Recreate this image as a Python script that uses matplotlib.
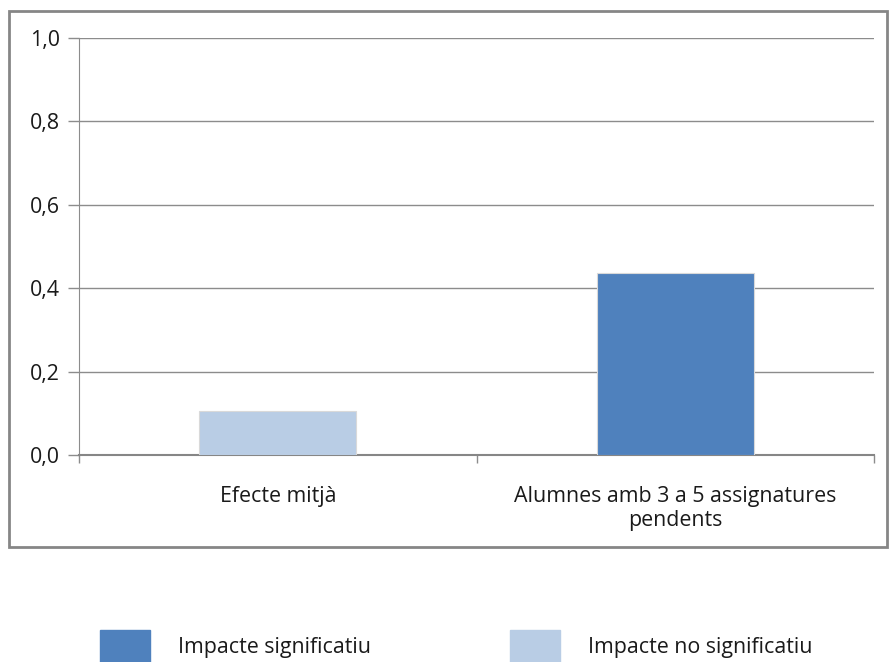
import matplotlib
matplotlib.use("Agg")
import matplotlib.pyplot as plt
from matplotlib.patches import Rectangle

categories = ["Efecte mitjà", "Alumnes amb 3 a 5 assignatures\npendents"]
values = [0.105, 0.436]
significant = [False, True]
legend_labels = ["Impacte significatiu", "Impacte no significatiu"]
yticks = [0.0, 0.2, 0.4, 0.6, 0.8, 1.0]
ytick_labels = ["0,0", "0,2", "0,4", "0,6", "0,8", "1,0"]

DARK = "#4F81BD"
LIGHT = "#B9CDE5"
GRID = "#8C8C8C"
FS = 15.4

plt.rcParams['font.family'] = ['Open Sans', 'DejaVu Sans']

fig = plt.figure(figsize=(8.89, 6.62), dpi=100)
W, H = 889, 662
ax = fig.add_axes([79 / W, 1 - 455 / H, (874 - 79) / W, (455 - 38) / H])

# outer frame
fig.patches.append(Rectangle((9 / W, 1 - 547 / H), (887 - 9) / W, (547 - 11) / H,
                             transform=fig.transFigure, fill=False,
                             edgecolor="#868686", lw=2.0))

x = range(len(categories))
colors = [DARK if s else LIGHT for s in significant]
ax.bar(x, values, width=0.395, color=colors, edgecolor="#D9D9D9", linewidth=0.8, zorder=3)

ax.set_xlim(-0.5, 1.5)
ax.set_ylim(0, 1.0)
ax.set_yticks(yticks)
ax.set_yticklabels(ytick_labels, fontsize=FS, color="#1a1a1a")
ax.yaxis.grid(True, color=GRID, lw=1.0, zorder=0)
ax.set_axisbelow(True)

ax.set_xticks([0, 1])
ax.set_xticklabels(categories, fontsize=FS, linespacing=1.2, color="#1a1a1a")
ax.tick_params(axis='x', length=0, pad=22)
ax.set_xticks([-0.5, 0.5, 1.5], minor=True)
ax.tick_params(axis='x', which='minor', length=6, color=GRID, width=1)
ax.tick_params(axis='y', length=8, color=GRID, width=1, pad=6)

for s in ["top", "right"]:
    ax.spines[s].set_visible(False)
ax.spines["left"].set_color(GRID)
ax.spines["bottom"].set_color("#868686")
ax.spines["bottom"].set_linewidth(1.5)

# legend
leg_items = [(100, legend_labels[0], DARK), (510, legend_labels[1], LIGHT)]
for x0, lab, col in leg_items:
    fig.patches.append(Rectangle((x0 / W, 1 - 662 / H), 50 / W, 32 / H,
                                 transform=fig.transFigure, color=col))
    fig.text((x0 + 78) / W, 1 - 648 / H, lab, fontsize=FS, va="center", ha="left",
             color="#1a1a1a")

fig.savefig("out.png", dpi=100)
